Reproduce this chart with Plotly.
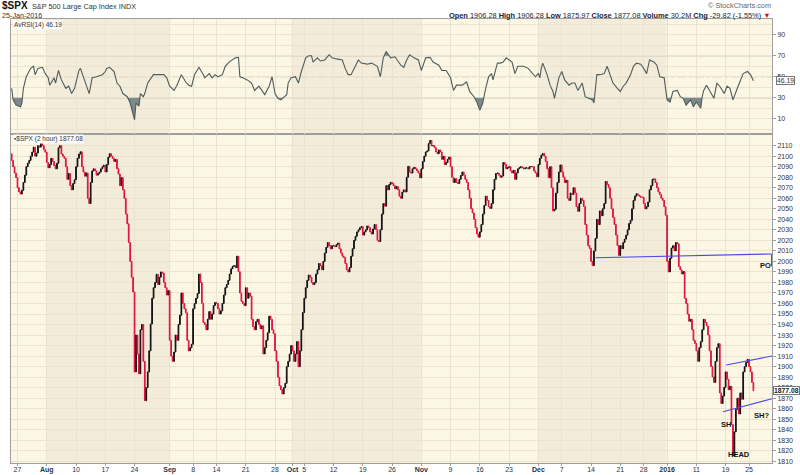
import numpy as np
import pandas as pd
import plotly.graph_objects as go

# ---------------- data ----------------
holidays = ["2015-09-07", "2015-11-26", "2015-12-25", "2016-01-01", "2016-01-18"]
trading_days = [d for d in pd.bdate_range("2015-07-24", "2016-01-25")
                if d.strftime("%Y-%m-%d") not in holidays]
BARS_PER_DAY = 4
first_open = 2102.2

# 2-hour closes, one row per trading day (4 bars a day)
closes_by_day = [
    [2096, 2090, 2084, 2079.7], [2070, 2066, 2064, 2067.6], [2075, 2082, 2090, 2093.3],
    [2096, 2100, 2104, 2108.6], [2100, 2103, 2110, 2108.6], [2112, 2110, 2106, 2103.8],
    [2094, 2089, 2092, 2098], [2095, 2091, 2088, 2093.3], [2108, 2110, 2102, 2099.8],
    [2098, 2090, 2078, 2083.6], [2072, 2068, 2074, 2077.6], [2090, 2098, 2102, 2104.2],
    [2090, 2085, 2081, 2084.1], [2060, 2055, 2075, 2086], [2088, 2086, 2082, 2083.4],
    [2085, 2088, 2090, 2091.5], [2085, 2092, 2099, 2102.4], [2100, 2098, 2095, 2096.9],
    [2088, 2083, 2072, 2079.6], [2068, 2060, 2045, 2035.7], [2018, 2000, 1985, 1970.9],
    [1895, 1930, 1912, 1893.2], [1935, 1940, 1905, 1867.6], [1880, 1895, 1915, 1940.5],
    [1965, 1975, 1980, 1987.7], [1978, 1985, 1990, 1988.9], [1980, 1975, 1968, 1972.2],
    [1925, 1910, 1905, 1913.9], [1930, 1925, 1940, 1948.9], [1970, 1960, 1955, 1951.1],
    [1925, 1915, 1918, 1921.2], [1955, 1960, 1965, 1969.4], [1988, 1980, 1960, 1942],
    [1940, 1935, 1945, 1952.3], [1945, 1950, 1958, 1961], [1960, 1955, 1950, 1953],
    [1960, 1968, 1975, 1978.1], [1982, 1988, 1993, 1995.3], [1996, 1994, 2005, 1990.2],
    [1970, 1962, 1960, 1958], [1975, 1965, 1970, 1967], [1945, 1938, 1935, 1942.7],
    [1945, 1940, 1936, 1938.8], [1912, 1918, 1925, 1932.2], [1948, 1945, 1935, 1931.3],
    [1915, 1905, 1890, 1881.8], [1878, 1874, 1880, 1884.1], [1900, 1905, 1912, 1920],
    [1915, 1905, 1912, 1923.8], [1900, 1915, 1935, 1951.4], [1965, 1975, 1982, 1987.1],
    [1985, 1980, 1978, 1979.9], [1988, 1992, 1998, 1995.8], [1992, 2000, 2008, 2013.4],
    [2018, 2015, 2012, 2014.9], [2015, 2014, 2016, 2017.5], [2012, 2008, 2005, 2003.7],
    [1998, 1992, 1990, 1994.2], [2005, 2012, 2020, 2023.9], [2028, 2030, 2032, 2033.1],
    [2025, 2028, 2030, 2033.7], [2032, 2028, 2026, 2030.8], [2035, 2030, 2020, 2018.9],
    [2030, 2045, 2055, 2052.5], [2072, 2068, 2073, 2075.2], [2074, 2072, 2069, 2071.2],
    [2068, 2062, 2060, 2065.9], [2068, 2066, 2080, 2090.4], [2085, 2084, 2088, 2089.4],
    [2088, 2086, 2084, 2079.4], [2088, 2095, 2100, 2104], [2105, 2112, 2115, 2109.8],
    [2110, 2108, 2104, 2102.3], [2106, 2104, 2097, 2099.9], [2092, 2094, 2097, 2099.2],
    [2090, 2080, 2075, 2078.6], [2075, 2074, 2078, 2081.7], [2085, 2082, 2078, 2075],
    [2068, 2060, 2050, 2046], [2040, 2032, 2026, 2023], [2028, 2035, 2045, 2053.2],
    [2062, 2058, 2052, 2050.4], [2055, 2068, 2078, 2083.6], [2084, 2082, 2080, 2081.2],
    [2094, 2092, 2088, 2089.2], [2090, 2086, 2084, 2086.6], [2078, 2084, 2088, 2089.1],
    [2090, 2089, 2088, 2088.9], [2089, 2088, 2090, 2090.1], [2090, 2086, 2084, 2080.4],
    [2092, 2098, 2101, 2102.6], [2100, 2095, 2088, 2079.5], [2090, 2070, 2048, 2049.6],
    [2065, 2075, 2085, 2091.7], [2085, 2080, 2075, 2077.1], [2060, 2058, 2065, 2063.6],
    [2070, 2065, 2052, 2047.6], [2055, 2060, 2058, 2052.2], [2035, 2025, 2015, 2012.4],
    [2000, 1996, 2010, 2021.9], [2040, 2035, 2048, 2043.4], [2050, 2055, 2076, 2073.1],
    [2070, 2060, 2050, 2041.9], [2035, 2025, 2015, 2005.6], [2015, 2012, 2018, 2021.2],
    [2025, 2030, 2036, 2039], [2050, 2058, 2062, 2064.3], [2063, 2062, 2061, 2061],
    [2055, 2050, 2052, 2056.5], [2068, 2072, 2078, 2078.4], [2075, 2070, 2066, 2063.4],
    [2060, 2058, 2052, 2043.9], [2000, 1990, 2003, 2012.7], [2015, 2010, 2018, 2016.7],
    [1995, 1992, 1988, 1990.3], [1965, 1960, 1950, 1943.1], [1945, 1935, 1925, 1922],
    [1915, 1905, 1918, 1923.7], [1935, 1945, 1942, 1938.7], [1930, 1915, 1900, 1890.3],
    [1885, 1905, 1918, 1921.8], [1875, 1865, 1872, 1880.3], [1895, 1888, 1878, 1881.3],
    [1845, 1815, 1838, 1859.3], [1870, 1855, 1875, 1869], [1895, 1900, 1904, 1906.9],
    [1900, 1895, 1885, 1877.1],
]

# RSI(14): bar index and value
rsi_bar = [0, 1, 3, 6, 7, 8, 10, 13, 15, 16, 18, 21, 23, 25, 26, 29, 30, 32, 34, 37, 39, 41, 43,
           46, 47, 49, 51, 53, 55, 58, 62, 64, 65, 67, 70, 72, 74, 76, 79, 81, 83, 84, 85, 87,
           88, 90, 91, 93, 97, 100, 104, 106, 108, 111, 113, 116, 119, 121, 123, 125, 128, 131,
           132, 135, 137, 139, 141, 144, 146, 149, 153, 155, 156, 158, 161, 164, 166, 169, 171,
           173, 176, 178, 180, 182, 184, 186, 188, 189, 191, 194, 196, 198, 201, 203, 205, 206,
           209, 211, 214, 217, 219, 222, 226, 228, 230, 232, 235, 237, 239, 243, 246, 250, 252,
           254, 256, 259, 262, 266, 268, 270, 272, 275, 278, 280, 283, 286, 288, 292, 294, 297,
           300, 302, 304, 308, 311, 313, 316, 318, 320, 322, 324, 326, 328, 329, 332, 334, 336,
           338, 342, 344, 346, 350, 353, 355, 358, 360, 361, 362, 363, 366, 368, 370, 371, 374,
           376, 378, 381, 383, 385, 387, 390, 392, 394, 397, 398, 400, 402, 405, 407, 409, 411,
           414, 416, 418, 420, 423, 425, 427, 430, 432, 434, 436, 439, 441, 443, 446, 448, 450,
           452, 455, 457, 459, 461, 464, 466, 468, 471, 472, 473, 475, 477, 480, 482, 484, 487,
           489, 491, 493, 496, 498, 500, 503, 505, 507]
rsi_value = [39, 28, 23, 21.5, 25, 39, 50, 58, 60, 52, 58, 59, 53, 49, 42, 49, 44, 56, 47, 39, 41,
             34, 39, 56, 58, 49, 42, 34, 49, 50, 52, 55, 58, 59, 55, 44, 41, 34, 31, 25, 15, 9, 25,
             22, 34, 31, 34, 44, 52, 52, 52, 49, 41, 37, 42, 52, 45, 42, 41, 52, 59, 52, 49, 53,
             49, 52, 50, 52, 60, 64.4, 68, 68.5, 50, 49, 47, 44, 37, 41, 37, 33, 41, 50, 34, 29.5,
             28, 31, 33, 44, 49, 50, 44, 55, 68, 70, 70, 64, 68, 65, 66, 71, 68, 67, 66, 58, 52,
             52, 60, 66, 63, 62, 63, 60, 50, 68, 74, 68, 69, 61, 59, 66, 71, 68, 66, 56, 68, 68.5,
             64, 61, 56, 56, 49, 37, 42, 42, 45, 36, 31, 26, 18, 25, 39, 50, 53, 47, 63, 63, 64,
             68, 64, 53, 60, 60, 58, 55, 50, 53, 49, 58, 63, 52, 42, 36, 29.5, 49, 55, 47, 42, 44,
             44, 37, 44, 31, 29.5, 28, 25, 52, 52, 53, 60, 52, 44, 39, 36, 41, 44, 52, 60, 63, 62,
             58, 53, 66, 64, 61, 50, 49, 28, 26, 36, 37, 31, 29.5, 23, 28, 21.5, 26, 20, 31, 37,
             42, 37, 29.5, 44, 41, 34, 41, 39, 28, 39, 47, 53, 55, 52, 46.19]

# x-axis labels (first trading day shown for each label)
tick_dates = ["2015-07-27", "2015-08-03", "2015-08-10", "2015-08-17", "2015-08-24", "2015-09-01",
              "2015-09-08", "2015-09-14", "2015-09-21", "2015-09-28", "2015-10-01", "2015-10-05",
              "2015-10-12", "2015-10-19", "2015-10-26", "2015-11-02", "2015-11-09", "2015-11-16",
              "2015-11-23", "2015-12-01", "2015-12-07", "2015-12-14", "2015-12-21", "2015-12-28",
              "2016-01-04", "2016-01-11", "2016-01-19", "2016-01-25"]
tick_labels = ["27", "Aug", "10", "17", "24", "Sep", "8", "14", "21", "28", "Oct", "5", "12",
               "19", "26", "Nov", "9", "16", "23", "Dec", "7", "14", "21", "28", "2016", "11",
               "19", "25"]
shaded_months = [("2015-08-03", "2015-09-01"), ("2015-10-01", "2015-11-02"), ("2015-12-01", "2016-01-04")]

price_ticks = list(range(1810, 2111, 10))
rsi_ticks = [10, 30, 50, 70, 90]

# hand-drawn trendlines (bar index, price)
neck_x, neck_y = [399, 519.4], [2003.5, 2007.1]
neck_drop_x, neck_drop_y = [519.4, 519.4], [2007.1, 1995.5]
upper_x, upper_y = [488.4, 519.7], [1901.5, 1910.1]
lower_x, lower_y = [486.2, 519.7], [1857.1, 1869.5]
notes = [("SH", 488.4, 1845.0), ("SH?", 512.4, 1853.3), ("HEAD", 496.8, 1816.5)]

# ---------------- build ----------------
closes = [c for row in closes_by_day for c in row]
assert len(closes_by_day) == len(trading_days), (len(closes_by_day), len(trading_days))
bar_idx = np.arange(len(closes))
opens = [first_open] + closes[:-1]
highs = np.maximum(opens, closes)
lows = np.minimum(opens, closes)

day_str = [d.strftime("%Y-%m-%d") for d in trading_days]
def bar_of(date):
    return day_str.index(date) * BARS_PER_DAY

tickvals = [bar_of(d) for d in tick_dates]
ticktext = [("<b>%s</b>" % t) if (not t.isdigit() or t == "2016") else t for t in tick_labels]

L, R, T, B, W, H = 11, 28, 19, 12, 800, 475
PW, PH = W - L - R, H - T - B
def fx(px):
    return (px - L) / PW
def fy(py):
    return (H - B - py) / PH

PRICE_TOP = 134.0
split = (H - B - PRICE_TOP) / PH

def band_polys(xs, ys, level, below=True):
    polys, cur = [], None
    def inside(v):
        return v < level if below else v > level
    for k in range(len(xs)):
        x, y = xs[k], ys[k]
        if k > 0 and inside(ys[k - 1]) != inside(y):
            x0, y0 = xs[k - 1], ys[k - 1]
            t = (level - y0) / (y - y0)
            xc = x0 + t * (x - x0)
            if inside(y):
                cur = [(xc, level)]
            else:
                cur.append((xc, level))
                polys.append(cur)
                cur = None
        if inside(y):
            if cur is None:
                cur = [(x, level)]
            cur.append((x, y))
    if cur:
        cur.append((xs[-1], level))
        polys.append(cur)
    px_, py_ = [], []
    for p in polys:
        px_ += [a for a, _ in p] + [p[0][0], None]
        py_ += [b for _, b in p] + [p[0][1], None]
    return px_, py_

fig = go.Figure()

RSI_LINE = "#4E5C5C"
RSI_FILL = "#7E8A8A"
for lvl, below in [(30, True), (70, False)]:
    fxs, fys = band_polys(rsi_bar, rsi_value, lvl, below)
    if fxs:
        fig.add_trace(go.Scatter(x=fxs, y=fys, xaxis="x2", yaxis="y2", mode="lines",
                                 fill="toself", fillcolor=RSI_FILL, line=dict(width=0),
                                 hoverinfo="skip"))
fig.add_trace(go.Scatter(x=rsi_bar, y=rsi_value, xaxis="x2", yaxis="y2", mode="lines",
                         line=dict(color=RSI_LINE, width=1.1)))

fig.add_trace(go.Candlestick(
    x=bar_idx, open=opens, high=highs, low=lows, close=closes, xaxis="x", yaxis="y",
    increasing=dict(line=dict(color="#111111", width=1), fillcolor="#111111"),
    decreasing=dict(line=dict(color="#E0143F", width=1), fillcolor="#E0143F"),
    whiskerwidth=0))

BLUE = "#4B4BEA"
for xs, ys in [(neck_x, neck_y), (neck_drop_x, neck_drop_y), (upper_x, upper_y), (lower_x, lower_y)]:
    fig.add_trace(go.Scatter(x=xs, y=ys, xaxis="x", yaxis="y", mode="lines",
                             line=dict(color=BLUE, width=1.1)))

shapes = []
for a, b in shaded_months:
    shapes.append(dict(type="rect", xref="x", yref="paper", x0=bar_of(a) - 0.5, x1=bar_of(b) - 0.5,
                       y0=0, y1=1, fillcolor="#F4ECDA", line=dict(width=0), layer="below"))
for lvl, dash, col in [(30, "solid", "#9DA3A3"), (70, "solid", "#9DA3A3"), (50, "dashdot", "#B8B8B0")]:
    shapes.append(dict(type="line", xref="paper", yref="y2", x0=0, x1=1, y0=lvl, y1=lvl,
                       line=dict(color=col, width=1.2, dash=dash), layer="between"))
fig.update_layout(shapes=shapes)

FONT = "Liberation Sans, Arial, sans-serif"
GRID = "#ECE3CF"
AXL = "#9E9E9E"
fig.update_layout(
    width=W, height=H, margin=dict(l=L, r=R, t=T, b=B, autoexpand=False),
    paper_bgcolor="white", plot_bgcolor="#FCF6E4", showlegend=False,
    font=dict(family=FONT, size=7, color="#333333"),
    xaxis=dict(domain=[0, 1], anchor="y", range=[-0.45, 519.7], tickvals=tickvals,
               ticktext=ticktext, tickfont=dict(size=7, color="#2A3346"), ticks="outside",
               ticklen=2, tickcolor=AXL, ticklabelstandoff=-2,
               showgrid=True, gridcolor=GRID, gridwidth=1,
               showline=True, linecolor=AXL, mirror=True, zeroline=False, automargin=False,
               rangeslider=dict(visible=False)),
    xaxis2=dict(domain=[0, 1], anchor="y2", matches="x", tickvals=tickvals,
                showticklabels=False, ticks="", showgrid=True, gridcolor=GRID, automargin=False,
                showline=True, linecolor=AXL, mirror=True, zeroline=False),
    yaxis=dict(domain=[0, split], range=[1808.4, 2121.1], side="right", tickvals=price_ticks,
               ticks="outside", ticklen=3, tickcolor=AXL, tickfont=dict(size=7, color="#333"),
               showgrid=True, gridcolor=GRID, showline=True, linecolor=AXL, mirror=True,
               zeroline=False, automargin=False),
    yaxis2=dict(domain=[split, 1], range=[-4.5, 105], side="right", tickvals=rsi_ticks,
                ticks="outside", ticklen=3, tickcolor=AXL, tickfont=dict(size=7, color="#333"),
                showgrid=True, gridcolor=GRID, showline=True, linecolor=AXL, mirror=True,
                zeroline=False, automargin=False,
                minor=dict(tickvals=[0, 20, 40, 60, 80, 100], showgrid=True, gridcolor=GRID, ticks="")),
)

ann = []
def txt(text, x, y, size=7.5, color="#222", xanchor="left", yanchor="middle", **kw):
    ann.append(dict(text=text, x=x, y=y, xref=kw.pop("xref", "paper"), yref=kw.pop("yref", "paper"),
                    showarrow=False, xanchor=xanchor, yanchor=yanchor,
                    font=dict(family=FONT, size=size, color=color), **kw))

txt("<b>$SPX</b>", fx(1), fy(5.5), size=10, color="#111", borderpad=0)
txt("S&P 500 Large Cap Index INDX", fx(31), fy(6.5), size=7.3, color="#333", borderpad=0)
txt("25-Jan-2016", fx(1), fy(16), size=7.2, color="#333", borderpad=0)
txt("© StockCharts.com", fx(772), fy(6), size=7.3, color="#666", xanchor="right", borderpad=0)
txt("<b>Open</b> 1906.28 <b>High</b> 1906.28 <b>Low</b> 1875.97 <b>Close</b> 1877.08 "
    "<b>Volume</b> 30.2M <b>Chg</b> -29.82 (-1.55%) <span style='color:#C8102E'>▼</span>",
    fx(772), fy(15.5), size=7.4, color="#1B2235", xanchor="right", borderpad=0)
txt("AvRSI(14) 46.19", fx(12.5), fy(24.5), size=6.5, color="#333",
    bgcolor="rgba(255,255,255,0.85)", borderpad=0)
txt("▪$SPX (2 hour) 1877.08", fx(12.5), fy(139), size=6.5, color="#333",
    bgcolor="rgba(255,255,255,0.85)", borderpad=0)
txt("46.19", fx(776), rsi_value[-1], size=6.8, color="#333", yref="y2",
    bgcolor="white", bordercolor="#777", borderwidth=1, borderpad=0)
txt("<b>1877.08</b>", fx(772.5), closes[-1], size=6.8, color="#222", yref="y",
    bgcolor="white", bordercolor="#777", borderwidth=1, borderpad=0)
for label, bx, by in notes:
    txt("<b>%s</b>" % label, bx, by, size=7.5, color="#111", xref="x", yref="y", xanchor="center")
txt("<b>PO</b>", fx(773), fy(265.5), size=7.5, color="#111", xanchor="right")
fig.update_layout(annotations=ann)

fig.write_html("out.html")
